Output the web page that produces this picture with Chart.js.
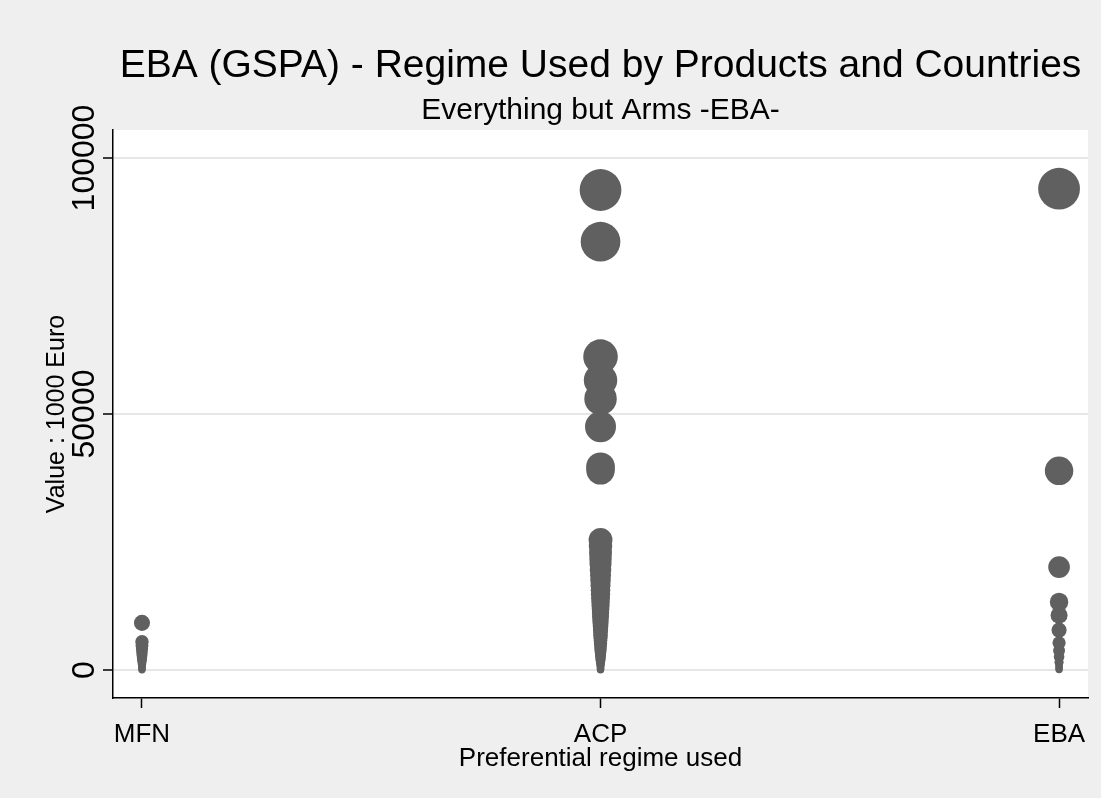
<!DOCTYPE html>
<html>
<head>
<meta charset="utf-8">
<script src="https://cdn.jsdelivr.net/npm/chart.js@4/dist/chart.umd.min.js"></script>
<style>
  body { margin: 0; background: #efefef; }
  canvas { display: block; }
</style>
</head>
<body>
<canvas id="chart" width="1101" height="798"></canvas>
<script>
"use strict";

// regimes on the x axis, positions 1..3
const categories = ["MFN", "ACP", "EBA"];

// values in 1000 Euro, one bubble per product/country
const mfnValues = [9200, 5500, 4800, 4100, 3400, 2800, 2200, 1700, 1200, 800, 450, 200, 60];
const acpValues = [93750, 83650, 61200, 56600, 53000, 47500, 39700, 39000,
  25400, 24200, 22900, 21800, 20800, 19600, 18500, 17500, 16500, 15600, 14800, 14000,
  13300, 12600, 11900, 11200, 10500, 9800, 9200, 8600, 8000, 7400, 6800, 6200, 5700,
  5200, 4700, 4200, 3800, 3400, 3000, 2600, 2200, 1900, 1600, 1300, 1000, 800, 600,
  400, 250, 120, 50];
const ebaValues = [94000, 38900, 20100, 13300, 10700, 7800, 5300, 3800, 2600, 1500, 800, 300, 80];

const yTicks = [0, 50000, 100000];

const titleText = "EBA (GSPA) - Regime Used by Products and Countries";
const subtitleText = "Everything but Arms -EBA-";

const fontFamily = "'Liberation Sans', Arial, sans-serif";
const markColor = "#606060";

// bubble area follows the value
function bubbleRadius(v) {
  return Math.max(3.7, 2.2 + 0.061 * Math.sqrt(v));
}

function toPoints(values, pos) {
  let points = [];
  for (let i = 0; i < values.length; i++) {
    points.push({ x: pos, y: values[i], r: bubbleRadius(values[i]) });
  }
  return points;
}

const allSeries = [mfnValues, acpValues, ebaValues];
const datasets = [];
for (let i = 0; i < categories.length; i++) {
  datasets.push({
    label: categories[i],
    data: toPoints(allSeries[i], i + 1),
    backgroundColor: markColor,
    borderWidth: 0,
    hoverBorderWidth: 0,
  });
}

const backgroundPlugin = {
  id: "background",
  beforeDraw(chart) {
    const ctx = chart.ctx;
    const area = chart.chartArea;
    ctx.save();
    ctx.fillStyle = "#efefef";
    ctx.fillRect(0, 0, chart.width, chart.height);
    ctx.fillStyle = "#ffffff";
    ctx.fillRect(area.left, area.top, area.right - area.left, area.bottom - area.top);
    ctx.restore();
  },
  afterDraw(chart) {
    const ctx = chart.ctx;
    const area = chart.chartArea;
    const yScale = chart.scales.y;
    const midX = (area.left + area.right) / 2;
    ctx.save();
    ctx.fillStyle = "#000000";
    ctx.textAlign = "center";
    ctx.textBaseline = "alphabetic";

    // titles are centred over the plot region
    ctx.font = "39px " + fontFamily;
    ctx.fillText(titleText, midX, 77);
    ctx.font = "30px " + fontFamily;
    ctx.fillText(subtitleText, midX, 119);

    // vertical tick labels on the y axis
    ctx.font = "32px " + fontFamily;
    ctx.textBaseline = "middle";
    for (let i = 0; i < yTicks.length; i++) {
      const py = yScale.getPixelForValue(yTicks[i]);
      ctx.save();
      ctx.translate(85, py);
      ctx.rotate(-Math.PI / 2);
      ctx.fillText(String(yTicks[i]), 0, 0);
      ctx.restore();
    }
    ctx.restore();
  },
};

const config = {
  type: "bubble",
  data: { datasets: datasets },
  options: {
    responsive: false,
    animation: false,
    clip: false,
    layout: { autoPadding: false, padding: { top: 130, left: 0, right: 13, bottom: 0 } },
    plugins: {
      legend: { display: false },
      tooltip: { enabled: false },
    },
    scales: {
      x: {
        type: "linear",
        min: 0.9368,
        max: 3.0631,
        afterBuildTicks(scale) {
          scale.ticks = categories.map((c, i) => ({ value: i + 1 }));
        },
        afterFit(scale) {
          scale.height = 100;
          scale.paddingLeft = 0;
          scale.paddingRight = 0;
        },
        ticks: {
          color: "#000000",
          font: { family: fontFamily, size: 26 },
          padding: 11,
          maxRotation: 0,
          autoSkip: false,
          callback: (value) => categories[value - 1],
        },
        grid: {
          drawOnChartArea: false,
          drawTicks: true,
          tickLength: 10,
          tickColor: "#000000",
          tickWidth: 1.5,
        },
        border: { display: true, color: "#000000", width: 1.5 },
        title: {
          display: true,
          text: "Preferential regime used",
          color: "#000000",
          font: { family: fontFamily, size: 26 },
          padding: { top: 0, bottom: 23.4 },
        },
      },
      y: {
        type: "linear",
        min: -5469,
        max: 105469,
        afterBuildTicks(scale) {
          scale.ticks = yTicks.map((v) => ({ value: v }));
        },
        afterFit(scale) {
          scale.width = 113;
          scale.paddingTop = 0;
          scale.paddingBottom = 0;
        },
        ticks: { display: false },
        grid: {
          color: "#e6e6e6",
          lineWidth: 2,
          drawTicks: true,
          tickLength: 10,
          tickColor: "#000000",
          tickWidth: 1.5,
        },
        border: { display: true, color: "#000000", width: 1.5 },
        title: {
          display: true,
          text: "Value : 1000 Euro",
          color: "#000000",
          font: { family: fontFamily, size: 25 },
          padding: { top: 42.4, bottom: 0 },
        },
      },
    },
  },
  plugins: [backgroundPlugin],
};

const productChart = document.getElementById("chart");
const myChart = new Chart(productChart, config);
</script>
</body>
</html>
